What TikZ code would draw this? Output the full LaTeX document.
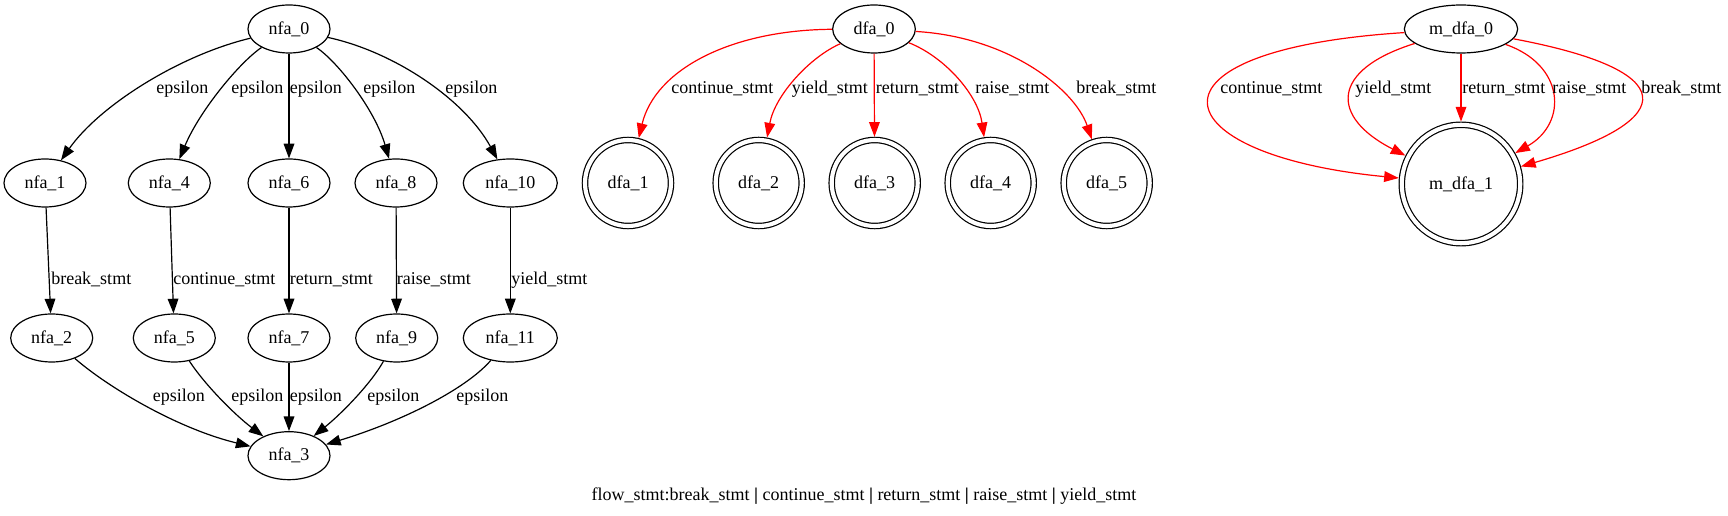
\documentclass[tikz,border=0pt]{standalone}
\usepackage{fontspec}
\setmainfont{Liberation Serif}
\usetikzlibrary{arrows.meta, shapes.geometric}

\newcommand{\sepbar}{\textbf{|}}

\begin{document}
\begin{tikzpicture}[
  x=0.75pt, y=-0.75pt,
  font=\fontsize{13.5}{16}\selectfont,
  state/.style={draw, ellipse, line width=0.9pt, inner sep=0pt, minimum width=61.5pt, minimum height=36pt},
  accept/.style={draw, circle, line width=0.9pt, double, double distance=3.1pt, inner sep=0pt, minimum size=64.5pt, outer sep=2.45pt},
  arrow/.style={-{Triangle[length=11pt,width=8pt]}, line width=0.9pt},
  redarrow/.style={arrow, draw=red},
  lbl/.style={inner sep=0pt, anchor=base west}
]
\useasboundingbox (0,0) rectangle (1728,516);

% NFA
\node[state] (nfa0) at (289,29) {nfa\_0};
\node[state] (nfa1) at (45,183) {nfa\_1};
\node[state] (nfa4) at (169.3,183) {nfa\_4};
\node[state] (nfa6) at (289,183) {nfa\_6};
\node[state] (nfa8) at (396,183) {nfa\_8};
\node[state, minimum width=70.5pt] (nfa10) at (510.3,183) {nfa\_10};
\node[state] (nfa2) at (51.7,338) {nfa\_2};
\node[state] (nfa5) at (174.3,338) {nfa\_5};
\node[state] (nfa7) at (289,338) {nfa\_7};
\node[state] (nfa9) at (396.7,338) {nfa\_9};
\node[state, minimum width=70.5pt] (nfa11) at (510.3,338) {nfa\_11};
\node[state] (nfa3) at (289,455.7) {nfa\_3};

\draw[arrow] (nfa0) .. controls (180,55) and (100,105) .. (nfa1);
\draw[arrow] (nfa0) .. controls (240,62) and (200,110) .. (nfa4);
\draw[arrow] (nfa0) -- (nfa6);
\draw[arrow] (nfa0) .. controls (338,62) and (375,110) .. (nfa8);
\draw[arrow] (nfa0) .. controls (395,52) and (465,100) .. (nfa10);
\node[lbl] (l01) at (156,93.5) {epsilon};
\node[lbl] (l04) at (231,93.5) {epsilon};
\node[lbl] (l06) at (289.5,93.5) {epsilon};
\node[lbl] (l08) at (363,93.5) {epsilon};
\node[lbl] (l010) at (445,93.5) {epsilon};

\draw[arrow] (nfa1) -- (nfa2);
\draw[arrow] (nfa4) -- (nfa5);
\draw[arrow] (nfa6) -- (nfa7);
\draw[arrow] (nfa8) -- (nfa9);
\draw[arrow] (nfa10) -- (nfa11);
\node[lbl] (l12) at (51,285) {break\_stmt};
\node[lbl] (l45) at (173,285) {continue\_stmt};
\node[lbl] (l67) at (289.5,285) {return\_stmt};
\node[lbl] (l89) at (396.5,285) {raise\_stmt};
\node[lbl] (l1011) at (511,285) {yield\_stmt};

\draw[arrow] (nfa2) .. controls (105,385) and (175,428) .. (nfa3);
\draw[arrow] (nfa5) .. controls (205,385) and (235,415) .. (nfa3);
\draw[arrow] (nfa7) -- (nfa3);
\draw[arrow] (nfa9) .. controls (370,385) and (340,415) .. (nfa3);
\draw[arrow] (nfa11) .. controls (465,390) and (400,422) .. (nfa3);
\node[lbl] (l23) at (152.7,402) {epsilon};
\node[lbl] (l53) at (231,402) {epsilon};
\node[lbl] (l73) at (289.5,402) {epsilon};
\node[lbl] (l93) at (367,402) {epsilon};
\node[lbl] (l113) at (456,402) {epsilon};

% DFA
\node[state, minimum width=62pt] (dfa0) at (874,29) {dfa\_0};
\node[accept] (dfa1) at (628,183) {dfa\_1};
\node[accept] (dfa2) at (758.7,183) {dfa\_2};
\node[accept] (dfa3) at (874.7,183) {dfa\_3};
\node[accept] (dfa4) at (990.7,183) {dfa\_4};
\node[accept] (dfa5) at (1106.7,183) {dfa\_5};

\draw[redarrow] (dfa0) .. controls (730,30) and (655,70) .. (dfa1);
\draw[redarrow] (dfa0) .. controls (810,57) and (775,95) .. (dfa2);
\draw[redarrow] (dfa0) -- (dfa3);
\draw[redarrow] (dfa0) .. controls (945,57) and (978,95) .. (dfa4);
\draw[redarrow] (dfa0) .. controls (1010,37) and (1075,90) .. (dfa5);
\node[lbl] (d1) at (671,93.5) {continue\_stmt};
\node[lbl] (d2) at (791.5,93.5) {yield\_stmt};
\node[lbl] (d3) at (875.7,93.5) {return\_stmt};
\node[lbl] (d4) at (975,93.5) {raise\_stmt};
\node[lbl] (d5) at (1076,93.5) {break\_stmt};

% minimized DFA
\node[state, minimum width=85pt] (mdfa0) at (1461,29) {m\_dfa\_0};
\node[accept, minimum size=88.8pt] (mdfa1) at (1461,184) {m\_dfa\_1};

\draw[redarrow] (mdfa0) .. controls (1130,50) and (1160,155) .. (mdfa1);
\draw[redarrow] (mdfa0) .. controls (1330,70) and (1330,117) .. (mdfa1);
\draw[redarrow] (mdfa0) -- (mdfa1);
\draw[redarrow] (mdfa0) .. controls (1565,65) and (1568,123) .. (mdfa1);
\draw[redarrow] (mdfa0) .. controls (1680,70) and (1684,119) .. (mdfa1);
\node[lbl] (m1) at (1220,93.5) {continue\_stmt};
\node[lbl] (m2) at (1355,93.5) {yield\_stmt};
\node[lbl] (m3) at (1462,93.5) {return\_stmt};
\node[lbl] (m4) at (1552,93.5) {raise\_stmt};
\node[lbl] (m5) at (1641,93.5) {break\_stmt};

\node[inner sep=0pt, anchor=base] (caption) at (864,500.5) {flow\_stmt:break\_stmt \sepbar{} continue\_stmt \sepbar{} return\_stmt \sepbar{} raise\_stmt \sepbar{} yield\_stmt};

\end{tikzpicture}
\end{document}
